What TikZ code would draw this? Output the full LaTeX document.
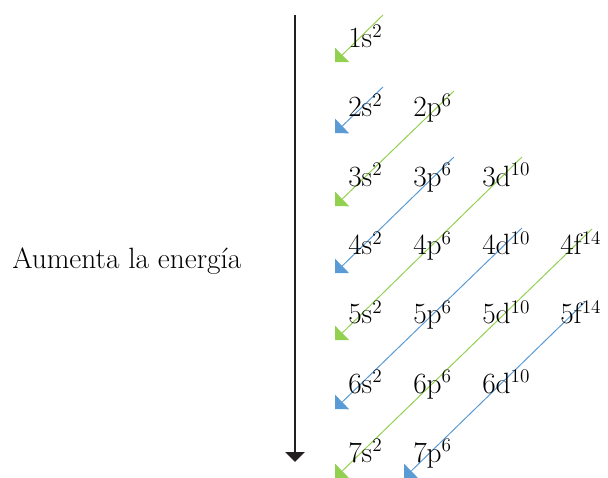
\documentclass[tikz,border=0pt]{standalone}
\usepackage{tikz}
\usetikzlibrary{arrows.meta,positioning}
\definecolor{arrgreen}{HTML}{92D050}
\definecolor{arrblue}{HTML}{5B9BD5}
\definecolor{axisblack}{HTML}{231F20}
\tikzset{
  orb/.style={anchor=base west, inner sep=0pt, font=\fontsize{22}{26}\selectfont},
  greenarr/.style={draw=arrgreen, line width=0.75pt, -{Triangle[length=7.5pt,width=15pt]}, arrgreen},
  bluearr/.style={draw=arrblue, line width=0.75pt, -{Triangle[length=7.5pt,width=15pt]}, arrblue},
}
\begin{document}
\begin{tikzpicture}[x=0.75pt,y=-0.75pt]
\useasboundingbox (0,0) rectangle (608,478);
% energy axis
\coordinate (etop) at (295,15);
\coordinate (ebot) at (295,462);
\draw[axisblack, line width=1.9pt, -{Triangle[length=7.5pt,width=14.5pt]}] (etop) -- (ebot);
\node[anchor=base west, inner sep=0pt, font=\fontsize{22}{26}\selectfont](energy) at (12,268) {Aumenta la energía};
% diagonal arrows (drawn first, text on top)
\coordinate (d1a) at (383,15);  \coordinate (d1b) at (335,62);
\coordinate (d2a) at (383,87);  \coordinate (d2b) at (335,133);
\coordinate (d3a) at (454,91);  \coordinate (d3b) at (335,206);
\coordinate (d4a) at (454,157); \coordinate (d4b) at (335,273);
\coordinate (d5a) at (522,157); \coordinate (d5b) at (335,340);
\coordinate (d6a) at (522,228); \coordinate (d6b) at (335,409);
\coordinate (d7a) at (592,229); \coordinate (d7b) at (335,478);
\coordinate (d8a) at (585,302); \coordinate (d8b) at (404,478);
\draw[greenarr] (d1a) -- (d1b);
\draw[bluearr] (d2a) -- (d2b);
\draw[greenarr] (d3a) -- (d3b);
\draw[bluearr] (d4a) -- (d4b);
\draw[greenarr] (d5a) -- (d5b);
\draw[bluearr] (d6a) -- (d6b);
\draw[greenarr] (d7a) -- (d7b);
\draw[bluearr] (d8a) -- (d8b);
% orbitals
\node[orb](n1s) at (348,48) {1s$^2$};
\node[orb](n2s) at (348,117) {2s$^2$};
\node[orb](n2p) at (413,117) {2p$^6$};
\node[orb](n3s) at (348,186) {3s$^2$};
\node[orb](n3p) at (413,186) {3p$^6$};
\node[orb](n3d) at (482,186) {3d$^{10}$};
\node[orb](n4s) at (348,255) {4s$^2$};
\node[orb](n4p) at (413,255) {4p$^6$};
\node[orb](n4d) at (482,255) {4d$^{10}$};
\node[orb](n4f) at (560,255) {4f$^{14}$};
\node[orb](n5s) at (348,324) {5s$^2$};
\node[orb](n5p) at (413,324) {5p$^6$};
\node[orb](n5d) at (482,324) {5d$^{10}$};
\node[orb](n5f) at (560,324) {5f$^{14}$};
\node[orb](n6s) at (348,393) {6s$^2$};
\node[orb](n6p) at (413,393) {6p$^6$};
\node[orb](n6d) at (482,393) {6d$^{10}$};
\node[orb](n7s) at (348,462) {7s$^2$};
\node[orb](n7p) at (413,462) {7p$^6$};
\end{tikzpicture}
\end{document}
